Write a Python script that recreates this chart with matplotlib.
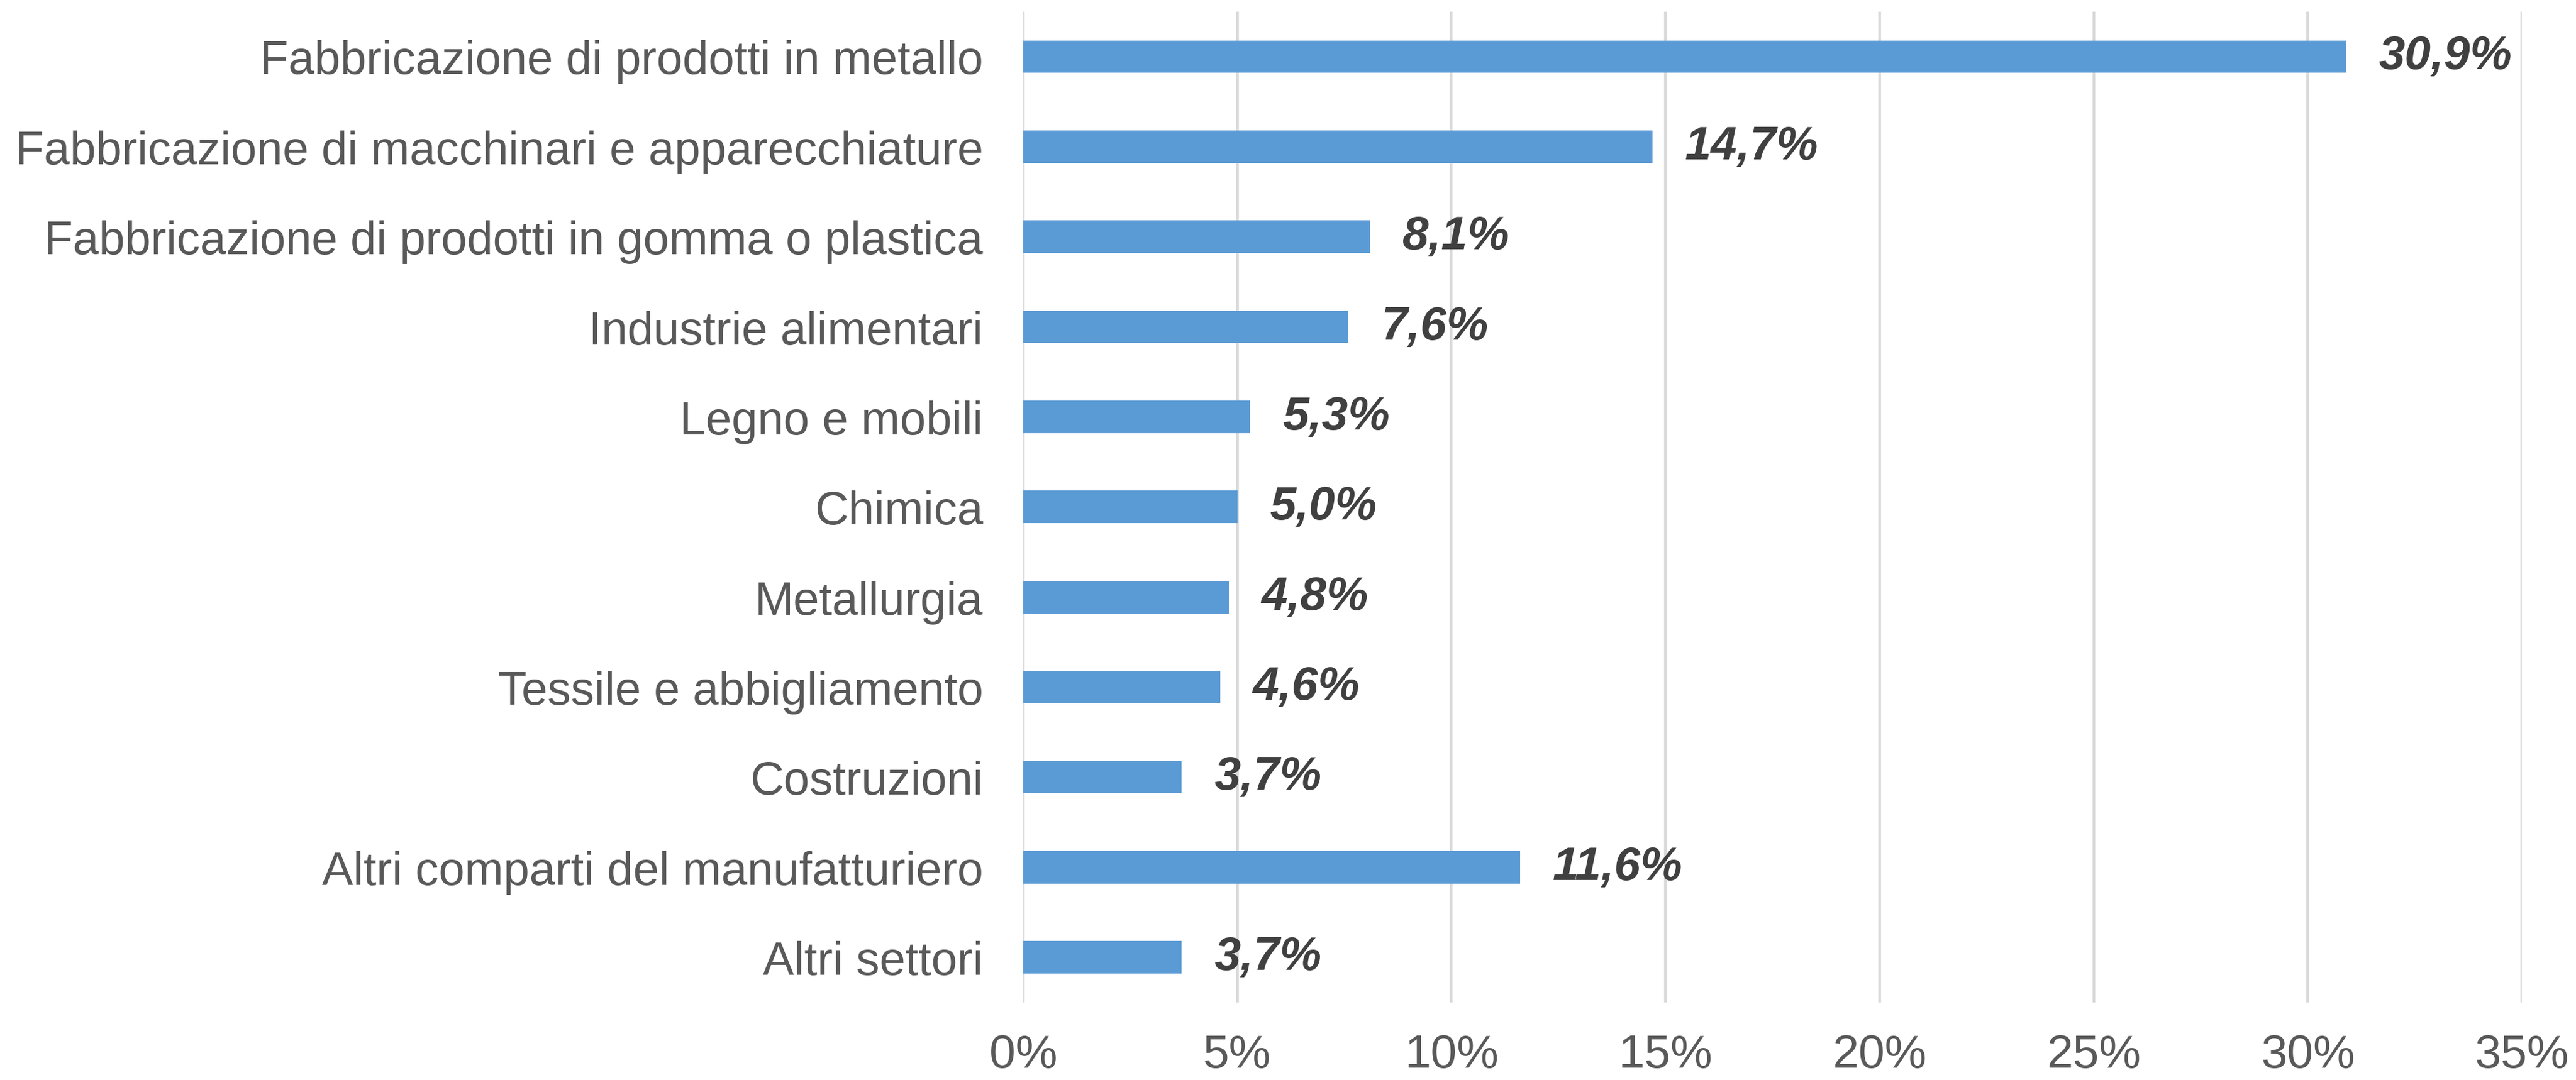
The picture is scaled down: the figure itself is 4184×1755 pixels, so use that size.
import matplotlib
matplotlib.use('Agg')
import matplotlib.pyplot as plt
from matplotlib.ticker import FuncFormatter

categories = [
    'Fabbricazione di prodotti in metallo',
    'Fabbricazione di macchinari e apparecchiature',
    'Fabbricazione di prodotti in gomma o plastica',
    'Industrie alimentari',
    'Legno e mobili',
    'Chimica',
    'Metallurgia',
    'Tessile e abbigliamento',
    'Costruzioni',
    'Altri comparti del manufatturiero',
    'Altri settori',
]
values = [30.9, 14.7, 8.1, 7.6, 5.3, 5.0, 4.8, 4.6, 3.7, 11.6, 3.7]
x_ticks = [0, 5, 10, 15, 20, 25, 30, 35]

plt.rcParams['font.family'] = ['Liberation Sans', 'DejaVu Sans']

fig = plt.figure(figsize=(41.84, 17.56), dpi=100)
ax = fig.add_axes([0.3972, 0.0718, 0.5818, 0.917])

pos = list(range(len(categories)))
ax.barh(pos, values, height=0.36, color='#5b9bd5', zorder=3)

for p, v in zip(pos, values):
    ax.annotate(f'{v:.1f}%'.replace('.', ','), (v, p), xytext=(38, 0),
                textcoords='offset points', va='center', ha='left',
                fontsize=55, fontweight='bold', fontstyle='italic',
                color='#404040')

ax.set_xlim(0, 35)
ax.set_ylim(len(categories) - 0.5, -0.5)
ax.set_xticks(x_ticks)
ax.xaxis.set_major_formatter(FuncFormatter(lambda x, _: f'{x:.0f}%'))
ax.set_yticks(pos)
ax.set_yticklabels(categories)
ax.tick_params(axis='y', length=0, pad=47, labelsize=54.5, labelcolor='#595959')
ax.tick_params(axis='x', length=0, pad=36, labelsize=55, labelcolor='#595959')

ax.grid(axis='x', color='#d9d9d9', linewidth=3.2, zorder=0)
for s in ax.spines.values():
    s.set_visible(False)

plt.savefig('out.png', dpi=100)
plt.close()
